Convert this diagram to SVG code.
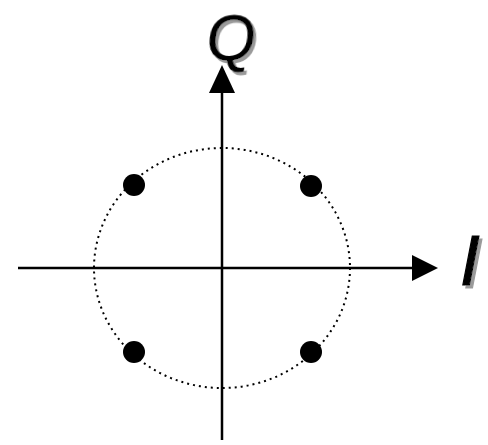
<svg xmlns="http://www.w3.org/2000/svg" width="488" height="445" viewBox="0 0 488 445">
<defs>
<filter id="shadow" x="-20%" y="-20%" width="150%" height="150%">
<feDropShadow dx="3" dy="3" stdDeviation="0.6" flood-color="#9a9a9a" flood-opacity="1"/>
</filter>
</defs>
<style>
.axis{stroke:#000;stroke-width:2.5;fill:none}
.circ{stroke:#000;stroke-width:2;fill:none;stroke-dasharray:2 4}
.dot{fill:#000}
.lbl{font-family:"Liberation Sans",Arial,sans-serif;fill:#000;filter:url(#shadow)}
</style>
<rect width="488" height="445" fill="#fff"/>
<g id="circle"><ellipse class="circ" cx="222" cy="268" rx="128" ry="120"/></g>
<g id="connectors">
<line class="axis" x1="18" y1="268" x2="414" y2="268"/>
<polygon points="438,268 412,255 412,281" fill="#000"/>
<line class="axis" x1="222" y1="440" x2="222" y2="91"/>
<polygon points="222,65 209,93 235,93" fill="#000"/>
</g>
<g id="p1"><circle class="dot" cx="134" cy="185" r="11"/></g>
<g id="p2"><circle class="dot" cx="311" cy="186" r="11"/></g>
<g id="p3"><circle class="dot" cx="134" cy="352" r="11"/></g>
<g id="p4"><circle class="dot" cx="311" cy="352" r="11"/></g>
<g id="labelQ"><text class="lbl" transform="translate(204,60) skewX(-7)" font-size="64">Q</text></g>
<g id="labelI"><text class="lbl" x="460" y="285" font-size="71" font-style="italic" stroke="#000" stroke-width="1.2">I</text></g>
</svg>
